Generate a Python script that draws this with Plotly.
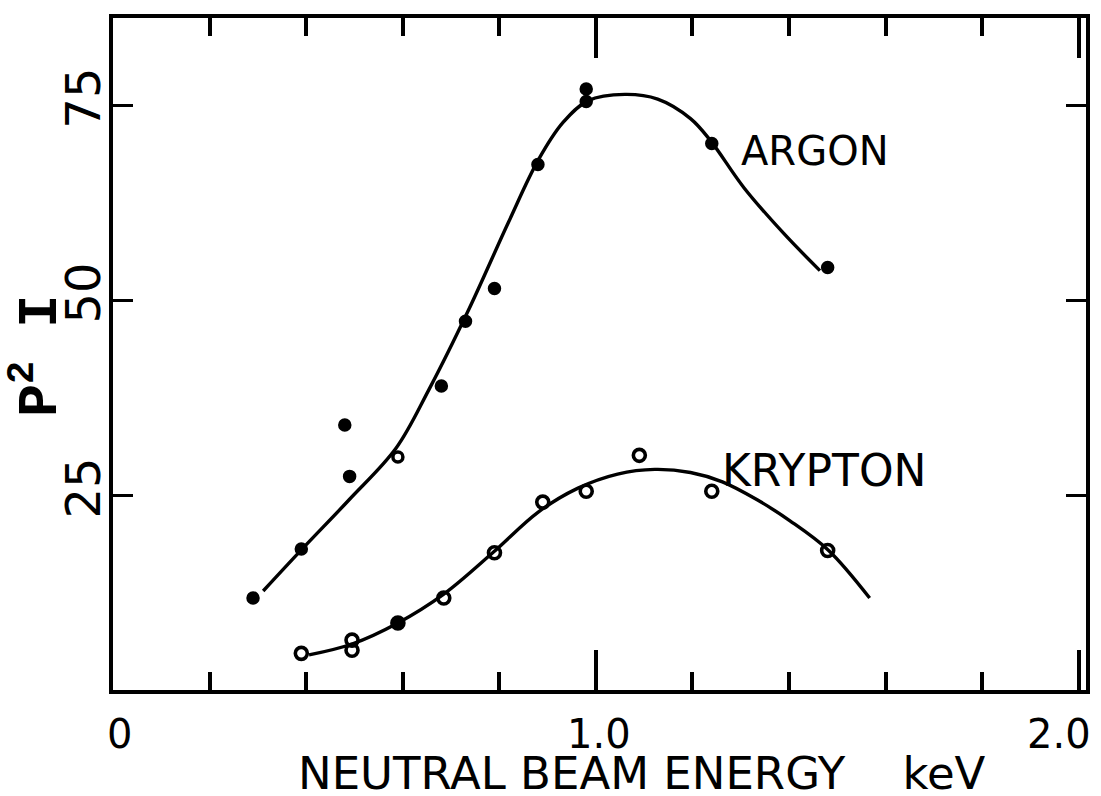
import plotly.graph_objects as go

# Measured P^2 I versus neutral beam energy (keV)
argon_energy = [0.29, 0.39, 0.48, 0.49, 0.59, 0.68, 0.73, 0.79, 0.88, 0.98, 0.98, 1.24, 1.48]
argon_p2i = [11.8, 18.1, 34.0, 27.4, 29.9, 39.0, 47.3, 51.5, 67.4, 77.1, 75.5, 70.1, 54.2]

krypton_energy = [0.39, 0.495, 0.495, 0.59, 0.685, 0.79, 0.89, 0.98, 1.09, 1.24, 1.48]
krypton_p2i = [4.7, 6.4, 5.1, 8.6, 11.8, 17.6, 24.1, 25.5, 30.1, 25.5, 17.9]

# Hand-faired curves through the data
argon_curve_energy = [0.311, 0.392, 0.489, 0.586, 0.654, 0.736, 0.819, 0.880, 0.932,
                      0.984, 1.060, 1.128, 1.196, 1.237, 1.307, 1.390, 1.464]
argon_curve_p2i = [12.7, 18.1, 24.4, 31.0, 38.5, 48.7, 60.0, 67.9, 72.8,
                   75.6, 76.4, 75.8, 73.3, 70.5, 64.4, 58.5, 53.8]

krypton_curve_energy = [0.406, 0.495, 0.590, 0.685, 0.788, 0.880, 0.963, 1.045, 1.122,
                        1.196, 1.262, 1.334, 1.402, 1.482, 1.567]
krypton_curve_p2i = [4.5, 5.9, 8.6, 12.3, 17.7, 22.8, 25.9, 27.7, 28.3,
                     27.9, 26.7, 24.4, 21.7, 17.9, 11.8]

x_tick_vals = [0, 1, 2]
x_tick_text = ["0", "1.0", "2.0"]
y_tick_vals = [25, 50, 75]
y_tick_text = ["25", "50", "75"]

INK = "black"
FONT = "DejaVu Sans"

# The argon point at 0.6 keV is drawn hollow, the krypton one filled
argon_symbols = ["circle"] * len(argon_p2i)
argon_symbols[4] = "circle-open"
krypton_symbols = ["circle-open"] * len(krypton_p2i)
krypton_symbols[3] = "circle"

fig = go.Figure()

fig.add_trace(go.Scatter(
    x=argon_curve_energy, y=argon_curve_p2i, mode="lines",
    line=dict(color=INK, width=3.4, shape="spline", smoothing=1.0),
    hoverinfo="skip", showlegend=False,
))
fig.add_trace(go.Scatter(
    x=krypton_curve_energy, y=krypton_curve_p2i, mode="lines",
    line=dict(color=INK, width=3.4, shape="spline", smoothing=1.0),
    hoverinfo="skip", showlegend=False,
))
fig.add_trace(go.Scatter(
    x=argon_energy, y=argon_p2i, mode="markers", name="ARGON",
    marker=dict(symbol=argon_symbols, size=10, color=INK,
                line=dict(color=INK, width=3.5)),
    showlegend=False,
))
fig.add_trace(go.Scatter(
    x=krypton_energy, y=krypton_p2i, mode="markers", name="KRYPTON",
    marker=dict(symbol=krypton_symbols, size=12, color=INK,
                line=dict(color=INK, width=3.6)),
    showlegend=False,
))

fig.add_annotation(x=1.297, y=69.2, text="ARGON", showarrow=False,
                   xanchor="left", yanchor="middle",
                   font=dict(family=FONT, size=40, color=INK))
fig.add_annotation(x=1.258, y=28.2, text="KRYPTON", showarrow=False,
                   xanchor="left", yanchor="middle",
                   font=dict(family=FONT, size=44, color=INK))

# Energy tick labels, set just below the bottom axis line
x_label_nudge = [0.014, 1.006, 1.96]
for val, txt, nudge in zip(x_tick_vals, x_tick_text, x_label_nudge):
    fig.add_annotation(x=nudge, xref="x", y=0, yref="paper", yshift=-44,
                       text=txt, showarrow=False, xanchor="center", yanchor="middle",
                       height=34,
                       font=dict(family=FONT, size=40, color=INK))

# Axis titles
fig.add_annotation(xref="paper", yref="paper", x=0.5, y=0, yshift=-83,
                   xshift=42, height=38,
                   text="NEUTRAL BEAM ENERGY\u00a0\u00a0\u00a0\u00a0keV", showarrow=False,
                   xanchor="center", yanchor="middle",
                   font=dict(family=FONT, size=45, color=INK))
fig.add_annotation(xref="paper", yref="paper", x=0, y=0.5, xshift=-76, yshift=-2,
                   text="<b>P<sup>2</sup>\u00a0I</b>", showarrow=False, textangle=-90,
                   xanchor="center", yanchor="middle",
                   font=dict(family="Liberation Mono", size=55, color=INK))

fig.update_xaxes(
    range=[0, 2.015], showgrid=False, zeroline=False,
    showline=True, linewidth=4, linecolor=INK, mirror="allticks",
    ticks="inside", tickvals=x_tick_vals, showticklabels=False,
    ticklen=40, tickwidth=4, tickcolor=INK,
    minor=dict(dtick=0.2, ticks="inside", ticklen=18, tickwidth=4, tickcolor=INK,
               showgrid=False),
)
fig.update_yaxes(
    range=[0, 86.2], showgrid=False, zeroline=False,
    showline=True, linewidth=4, linecolor=INK, mirror="allticks",
    ticks="inside", tickvals=y_tick_vals, ticktext=y_tick_text,
    ticklen=20, tickwidth=3, tickcolor=INK, tickangle=-90,
    ticklabelstandoff=-10,
    tickfont=dict(family=FONT, size=48, color=INK),
)

fig.update_layout(
    width=1101, height=796,
    margin=dict(l=113, r=11, t=18, b=106),
    paper_bgcolor="white", plot_bgcolor="white",
)

fig.write_html("out.html")
